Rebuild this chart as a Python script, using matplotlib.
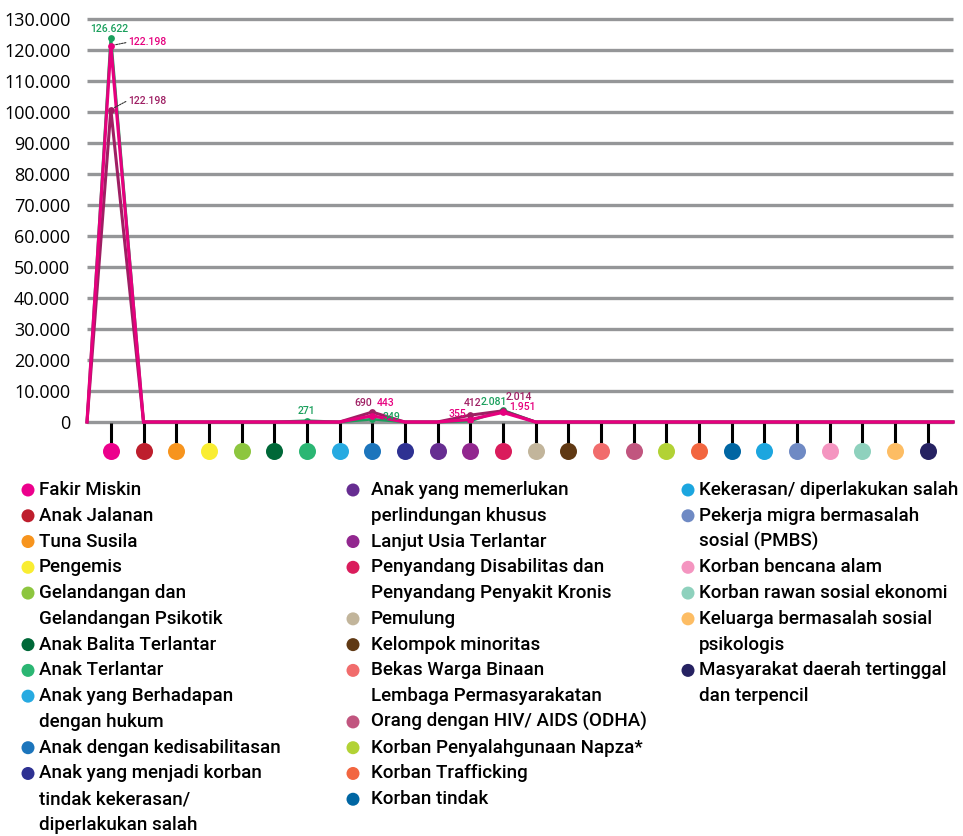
import matplotlib
matplotlib.use('Agg')
import matplotlib.pyplot as plt
import numpy as np
from matplotlib.patches import Ellipse
from matplotlib.transforms import blended_transform_factory

# categories (x axis dots + legend)
Categories = ['Fakir Miskin', 'Anak Jalanan', 'Tuna Susila', 'Pengemis',
              'Gelandangan dan\nGelandangan Psikotik', 'Anak Balita Terlantar', 'Anak Terlantar',
              'Anak yang Berhadapan\ndengan hukum', 'Anak dengan kedisabilitasan',
              'Anak yang menjadi korban\ntindak kekerasan/\ndiperlakukan salah',
              'Anak yang memerlukan\nperlindungan khusus', 'Lanjut Usia Terlantar',
              'Penyandang Disabilitas dan\nPenyandang Penyakit Kronis', 'Pemulung',
              'Kelompok minoritas', 'Bekas Warga Binaan\nLembaga Permasyarakatan',
              'Orang dengan HIV/ AIDS (ODHA)', 'Korban Penyalahgunaan Napza*',
              'Korban Trafficking', 'Korban tindak', 'Kekerasan/ diperlakukan salah',
              'Pekerja migra bermasalah\nsosial (PMBS)', 'Korban bencana alam',
              'Korban rawan sosial ekonomi', 'Keluarga bermasalah sosial\npsikologis',
              'Masyarakat daerah tertinggal\ndan terpencil']
CatColors = ['#ec008c', '#be1e2d', '#f7941d', '#f9ed32', '#8dc63f', '#006838', '#2bb673',
             '#27aae1', '#1c75bc', '#2e3192', '#662d91', '#92278f', '#da1c5c', '#c2b59b',
             '#603913', '#f16c6c', '#c1557f', '#b2d235', '#f26640', '#0066a3', '#1ca6df',
             '#6f8ac4', '#f495c0', '#8ed1bd', '#fdbd64', '#262262']

# series values as plotted
Green = [124000, 0, 0, 0, 0, 0, 400, 0, 900, 0, 0, 300, 3800] + [0] * 13
DarkMagenta = [100800, 0, 0, 0, 0, 0, 0, 0, 3200, 0, 0, 2200, 3600] + [0] * 13
Pink = [121400, 0, 0, 0, 0, 0, 0, 0, 2000, 0, 0, 800, 3100] + [0] * 13

# printed value labels {category index: text}
GreenLabels = {0: '126.622', 6: '271', 8: '349', 12: '2.081'}
DarkMagentaLabels = {0: '122.198', 8: '690', 11: '412', 12: '2.014'}
PinkLabels = {0: '122.198', 8: '443', 11: '355', 12: '1.951'}

YTicks = list(range(0, 130001, 10000))

GREEN = '#1a9f5c'
DM = '#9e1f63'
PINK = '#e6007e'
GRID = '#959698'

plt.rcParams['font.family'] = ['Roboto', 'DejaVu Sans']

fig = plt.figure(figsize=(9.63, 8.36), dpi=100)
ax = fig.add_axes([87 / 963, 1 - 422 / 836, 866 / 963, 403 / 836])

x = np.arange(len(Categories))
XL = (-0.73, 25.78)
ax.set_xlim(*XL)
ax.set_ylim(0, 130000)

ax.hlines(YTicks, XL[0], XL[1], color=GRID, lw=2.4, clip_on=False, zorder=1)

# stems + coloured dots under the axis
tr = blended_transform_factory(ax.transData, ax.transAxes)
for i, c in enumerate(CatColors):
    ax.plot([i, i], [-0.003, -0.052], color='black', lw=2.2, transform=tr, clip_on=False,
            solid_capstyle='butt', zorder=2)
    ax.scatter([i], [-0.072], s=150, color=c, transform=tr, clip_on=False, zorder=3,
               linewidths=0)


def draw_series(vals, color, lw, labels, offsets, z):
    xs = np.r_[XL[0], x, XL[1]]
    ys = np.r_[0, vals, 0]
    ax.plot(xs, ys, color=color, lw=lw, zorder=z, solid_joinstyle='miter', clip_on=False)
    idx = list(labels.keys())
    ax.scatter(x[idx], np.array(vals)[idx], s=24, color=color, zorder=z + 0.1, linewidths=0)
    for k, txt in labels.items():
        dx, dy, ha, lead = offsets[k]
        ax.annotate(txt, (k, vals[k]), xytext=(dx, dy), textcoords='offset pixels',
                    ha=ha, va='center', color=color, fontsize=7.5, fontweight='medium',
                    zorder=10)
        if lead:
            # dotted leader from the point to the label
            ax.annotate('', (k, vals[k]), xytext=(dx - 2, dy - 1), textcoords='offset pixels',
                        arrowprops=dict(arrowstyle='-', ls=(0, (1.5, 1)), color='#333333',
                                        lw=0.8, shrinkA=0, shrinkB=3), zorder=9)


draw_series(Green, GREEN, 2.0, GreenLabels,
            {0: (-2, 9, 'center', False), 6: (0, 10, 'center', False),
             8: (19, 2, 'center', False), 12: (-9, 8, 'center', False)}, 4)
draw_series(DarkMagenta, DM, 2.2, DarkMagentaLabels,
            {0: (17, 9, 'left', True), 8: (-9, 9, 'center', False),
             11: (2, 12, 'center', False), 12: (16, 14, 'center', False)}, 5)
draw_series(Pink, PINK, 2.3, PinkLabels,
            {0: (17, 4, 'left', True), 8: (13, 13, 'center', False),
             11: (-13, 6, 'center', False), 12: (20, 5, 'center', False)}, 6)

ax.set_yticks(YTicks)
ax.set_yticklabels(['0' if v == 0 else f'{v // 1000}.000' for v in YTicks],
                   fontsize=13, family=['Open Sans', 'DejaVu Sans'])
ax.tick_params(axis='y', length=0, pad=12)
ax.set_xticks([])
for s in ax.spines.values():
    s.set_visible(False)

# legend, three columns
cols = [(0, 10, 28, 39), (10, 20, 353, 371), (20, 26, 688, 699)]
line_h = 25.77
for a, b, dot_x, txt_x in cols:
    y = 490.0
    for i in range(a, b):
        fig.add_artist(Ellipse((dot_x / 963, 1 - y / 836), 13 / 963, 13 / 836,
                               transform=fig.transFigure, color=CatColors[i], lw=0))
        for ln in Categories[i].split('\n'):
            fig.text(txt_x / 963, 1 - y / 836, ln, fontsize=13.5, fontweight='medium',
                     va='center', ha='left', color='black')
            y += line_h

fig.savefig('out.png', dpi=100)
